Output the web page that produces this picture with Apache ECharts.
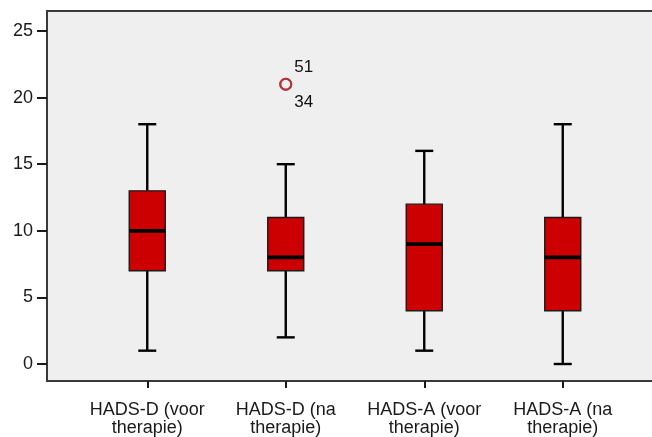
<!DOCTYPE html>
<html>
<head>
<meta charset="utf-8">
<script src="https://cdn.jsdelivr.net/npm/echarts@6/dist/echarts.min.js"></script>
<style>
  html, body { margin: 0; padding: 0; background: #ffffff; }
  #chart { width: 652px; height: 437px; }
</style>
</head>
<body>
<div id="chart"></div>
<script>
// HADS scores before and after therapy, summarised as box plots
const categories = ['HADS-D (voor\ntherapie)', 'HADS-D (na\ntherapie)', 'HADS-A (voor\ntherapie)', 'HADS-A (na\ntherapie)'];
const whiskerLow = [1, 2, 1, 0];
const quartile1 = [7, 7, 4, 4];
const medians = [10, 8, 9, 8];
const quartile3 = [13, 11, 12, 11];
const whiskerHigh = [18, 15, 16, 18];

// outlying cases (two cases share the same score)
const outlierCategory = [1, 1];
const outlierValues = [21, 21];
const outlierCases = ['51', '34'];

// labelled scale
const tickMin = 0;
const tickMax = 25;
const tickStep = 5;

// the plotting frame runs a little beyond the labelled scale on both ends
const frameMin = -1.276;
const frameMax = 26.5;

const FONT = '"Liberation Sans", Arial, sans-serif';
const TEXT = '#1a1a1a';

const boxData = categories.map((c, i) => [i, whiskerLow[i], quartile1[i], medians[i], quartile3[i], whiskerHigh[i]]);

function renderBox(params, api) {
  const i = api.value(0);
  const xc = api.coord([i, 0])[0];
  const y = (k) => api.coord([i, api.value(k)])[1];
  const yLow = y(1), yQ1 = y(2), yMed = y(3), yQ3 = y(4), yHigh = y(5);
  const boxW = 36, capW = 18;
  const ink = { stroke: '#000000', lineWidth: 2.4 };
  return {
    type: 'group',
    children: [
      { type: 'line', shape: { x1: xc, y1: yLow, x2: xc, y2: yQ1 }, style: ink },
      { type: 'line', shape: { x1: xc, y1: yQ3, x2: xc, y2: yHigh }, style: ink },
      { type: 'line', shape: { x1: xc - capW / 2, y1: yLow, x2: xc + capW / 2, y2: yLow }, style: ink },
      { type: 'line', shape: { x1: xc - capW / 2, y1: yHigh, x2: xc + capW / 2, y2: yHigh }, style: ink },
      { type: 'rect', shape: { x: xc - boxW / 2, y: yQ3, width: boxW, height: yQ1 - yQ3 },
        style: { fill: '#cc0000', stroke: '#1a1a1a', lineWidth: 1.4 } },
      { type: 'line', shape: { x1: xc - boxW / 2, y1: yMed, x2: xc + boxW / 2, y2: yMed },
        style: { stroke: '#000000', lineWidth: 3.8 } }
    ]
  };
}

const chart = echarts.init(document.getElementById('chart'), null, { renderer: 'canvas' });

chart.setOption({
  animation: false,
  backgroundColor: '#ffffff',
  grid: [
    // framed plotting area (open on the right, past the canvas edge)
    { left: 47, width: 640, top: 11, bottom: 56, show: true, outerBoundsMode: 'none',
      backgroundColor: '#efefef', borderColor: '#3a3a3a', borderWidth: 2 },
    // data area
    { left: 78, right: 20, top: 11, bottom: 56, outerBoundsMode: 'none' },
    // labelled value scale
    { left: 47, right: 20, top: 31, bottom: 73, outerBoundsMode: 'none' }
  ],
  xAxis: [
    { gridIndex: 0, type: 'value', show: false },
    {
      gridIndex: 1, type: 'category', data: categories,
      boundaryGap: true,
      axisLine: { show: false, onZero: false },
      axisTick: { show: true, alignWithLabel: true, length: 7, lineStyle: { color: '#1a1a1a', width: 2 } },
      axisLabel: { fontFamily: FONT, fontSize: 18, lineHeight: 18, color: TEXT, margin: 20, interval: 0 },
      splitLine: { show: false }
    },
    { gridIndex: 2, type: 'value', show: false }
  ],
  yAxis: [
    { gridIndex: 0, type: 'value', show: false },
    { gridIndex: 1, type: 'value', min: frameMin, max: frameMax, show: false },
    {
      gridIndex: 2, type: 'value', min: tickMin, max: tickMax, interval: tickStep,
      axisLine: { show: false },
      axisTick: { show: true, length: 10, lineStyle: { color: '#1a1a1a', width: 2 } },
      axisLabel: { fontFamily: FONT, fontSize: 18, color: TEXT, margin: 14 },
      splitLine: { show: false }
    }
  ],
  series: [
    {
      type: 'custom',
      xAxisIndex: 1, yAxisIndex: 1,
      renderItem: renderBox,
      encode: { x: 0, y: [1, 2, 3, 4, 5] },
      data: boxData,
      z: 3
    },
    {
      type: 'scatter',
      xAxisIndex: 1, yAxisIndex: 1,
      symbol: 'circle',
      symbolSize: 11,
      itemStyle: { color: 'rgba(0,0,0,0)', borderColor: '#b8323a', borderWidth: 2, opacity: 1 },
      data: outlierValues.map((v, k) => ({
        value: [outlierCategory[k], v],
        label: {
          show: true, formatter: outlierCases[k], position: 'right', distance: 2,
          offset: [0, k === 0 ? -17 : 18],
          fontFamily: FONT, fontSize: 17, color: '#111111'
        }
      })),
      z: 4
    }
  ]
});
</script>
</body>
</html>
